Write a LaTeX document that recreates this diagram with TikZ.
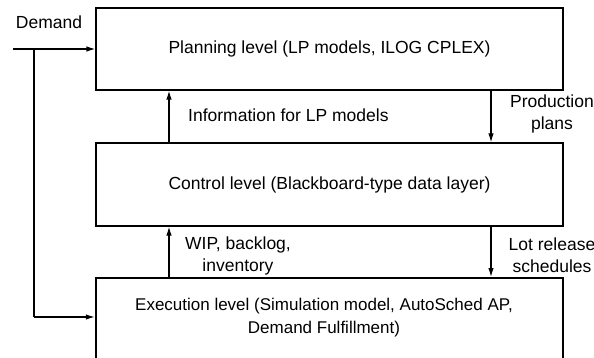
\documentclass[tikz,border=0pt]{standalone}
\usepackage{fontspec}
\setmainfont{Liberation Sans}
\usetikzlibrary{arrows.meta}
\begin{document}
\begin{tikzpicture}[x=1pt,y=-1pt,
  every node/.style={font=\fontsize{17.5}{22.5}\selectfont},
  levelbox/.style={draw, line width=1.2pt, minimum width=467pt, inner sep=0pt},
  execbox/.style={draw, line width=2.4pt, minimum width=467pt, minimum height=100pt, inner sep=0pt},
  lbl/.style={align=center, inner sep=0pt},
  flow/.style={line width=1.2pt, -{Latex[length=9pt,width=5.5pt]}}]
\useasboundingbox (0,0) rectangle (594,358);
\clip (0,0) rectangle (594,358);
\node[levelbox, minimum height=82pt] (plan) at (329.5,49) {Planning level (LP models, ILOG CPLEX)};
\node[levelbox, minimum height=83pt] (ctrl) at (329.5,184.5) {Control level (Blackboard-type data layer)};
\node[execbox, anchor=north] (exec) at (329.5,277) {};
\node[lbl, font=\fontsize{17}{23}\selectfont] (exectext) at (324,318) {Execution level (Simulation model, AutoSched AP,\\Demand Fulfillment)};
\node[lbl] (demand) at (49,22.5) {Demand};
\node[lbl, anchor=west] (info) at (188,115.5) {Information for LP models};
\node[lbl] (prod) at (552,114) {Production\\plans};
\node[lbl] (lot) at (552,255) {Lot release\\schedules};
\node[lbl] (wip) at (238,256) {WIP, backlog,\\inventory};
\coordinate (dstart) at (13,49);
\coordinate (dsplit) at (34,49);
\coordinate (dcorner) at (34,317);
\draw[flow] (dstart) -- (plan.west |- dstart);
\draw[line width=1.2pt] (dsplit) -- (dcorner);
\draw[flow] (dcorner) -- (exec.west |- dcorner);
\draw[flow] (ctrl.north -| 169,0) -- (plan.south -| 169,0);
\draw[flow] (plan.south -| 491,0) -- (ctrl.north -| 491,0);
\draw[flow] (exec.north -| 169,0) -- (ctrl.south -| 169,0);
\draw[flow] (ctrl.south -| 491,0) -- (exec.north -| 491,0);
\end{tikzpicture}
\end{document}
